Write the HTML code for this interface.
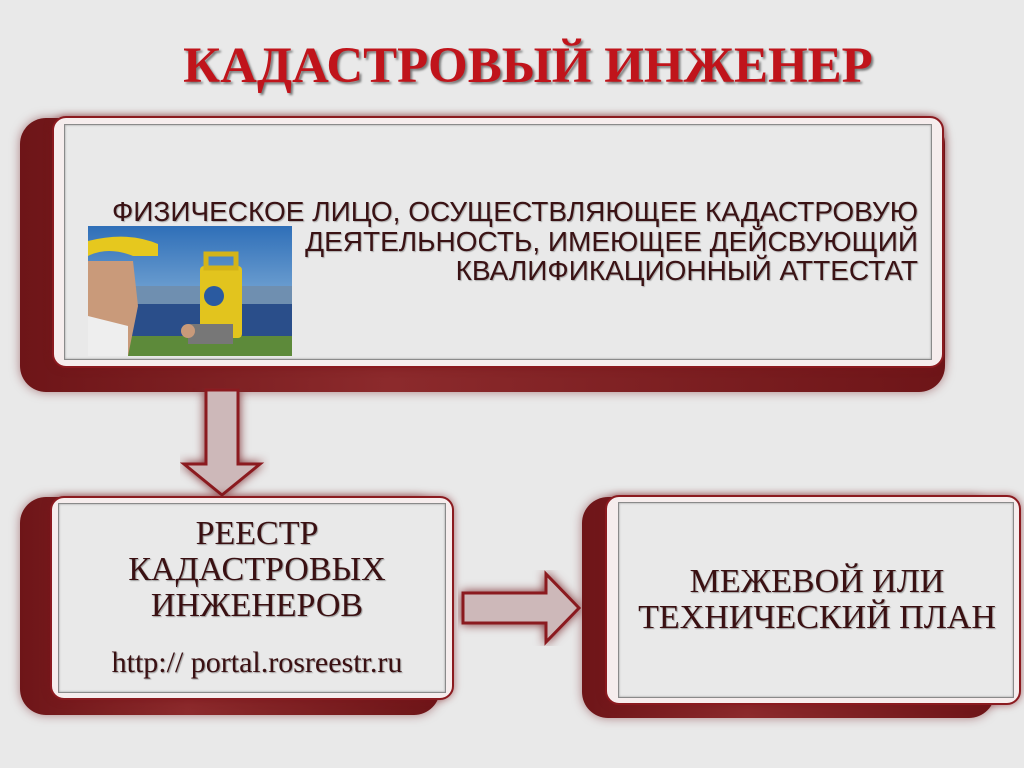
<!DOCTYPE html>
<html><head><meta charset="utf-8"><style>
body{margin:0;width:1024px;height:768px;background:#e9e9e9;position:relative;overflow:hidden;font-family:"Liberation Serif",serif}
.a{position:absolute}
.back{background:linear-gradient(90deg,#6e1518,#8c2a2c 40%,#6e1518);border-radius:26px;box-shadow:0 0 10px rgba(110,20,25,.5)}
.front{background:#f6eded;border:2px solid #8b1a1f;border-radius:14px;box-shadow:0 0 8px rgba(120,20,25,.6)}
.inner{background:#e9e9e9;border:1px solid #8a8a8a;box-shadow:inset 0 0 2px #999}
.t{color:#3a1012;text-align:center;font-size:34px;line-height:36px;text-shadow:1px 1px 1px #999}
</style></head><body>
<div class="a" style="left:0;top:37px;width:1056px;text-align:center;font-size:51px;font-weight:bold;color:#c0141b;text-shadow:2px 2px 2px #777">КАДАСТРОВЫЙ ИНЖЕНЕР</div>

<div class="a back" style="left:20px;top:118px;width:925px;height:274px"></div>
<div class="a front" style="left:52px;top:116px;width:888px;height:248px"></div>
<div class="a inner" style="left:64px;top:124px;width:866px;height:234px"></div>
<div class="a" style="left:60px;top:197px;width:858px;text-align:right;font-family:'Liberation Sans',sans-serif;font-size:28px;line-height:29.5px;color:#3a1214;text-shadow:1px 1px 1px #aaa">ФИЗИЧЕСКОЕ ЛИЦО, ОСУЩЕСТВЛЯЮЩЕЕ КАДАСТРОВУЮ<br>ДЕЯТЕЛЬНОСТЬ, ИМЕЮЩЕЕ ДЕЙСВУЮЩИЙ<br>КВАЛИФИКАЦИОННЫЙ АТТЕСТАТ</div>
<svg class="a" style="left:88px;top:226px" width="204" height="130">
<defs><linearGradient id="s" x1="0" y1="0" x2="0" y2="1"><stop offset="0" stop-color="#2f6fb8"/><stop offset="1" stop-color="#a9cde8"/></linearGradient></defs>
<rect width="204" height="130" fill="url(#s)"/>
<rect y="60" width="204" height="20" fill="#6f8fb0"/>
<rect y="78" width="204" height="35" fill="#2a4e8a"/>
<rect y="110" width="204" height="20" fill="#5d8a3a"/>
<path d="M0 30 Q20 20 45 30 L70 30 L70 18 Q40 5 0 15Z" fill="#e6c81e"/>
<path d="M0 35 L45 35 L50 80 L40 130 L0 130Z" fill="#c99a7a"/>
<path d="M0 90 L40 100 L40 130 L0 130Z" fill="#eee"/>
<rect x="112" y="40" width="42" height="72" rx="4" fill="#e2c41e"/>
<rect x="118" y="28" width="30" height="14" fill="none" stroke="#d4b418" stroke-width="5"/>
<circle cx="126" cy="70" r="10" fill="#2a5aa0"/>
<rect x="100" y="98" width="45" height="20" fill="#777"/>
<circle cx="100" cy="105" r="7" fill="#c99a7a"/>
</svg>

<svg class="a" style="left:180px;top:388px" width="90" height="112"><path d="M26 2 H58 V76 H80 L42 107 L4 76 H26Z" fill="#cdb8b9" stroke="#8b1a1f" stroke-width="3" style="filter:drop-shadow(0 0 5px #7b2a2e)"/></svg>
<svg class="a" style="left:458px;top:570px" width="126" height="76"><path d="M5 23 H88 V4 L121 38 L88 72 V53 H5Z" fill="#cdb8b9" stroke="#8b1a1f" stroke-width="3" style="filter:drop-shadow(0 0 5px #7b2a2e)"/></svg>

<div class="a back" style="left:20px;top:497px;width:420px;height:218px"></div>
<div class="a front" style="left:50px;top:496px;width:400px;height:200px"></div>
<div class="a inner" style="left:58px;top:503px;width:386px;height:188px"></div>
<div class="a t" style="left:58px;top:516px;width:398px">РЕЕСТР<br>КАДАСТРОВЫХ<br>ИНЖЕНЕРОВ</div>
<div class="a t" style="left:58px;top:645px;width:398px;font-size:30px">http:// portal.rosreestr.ru</div>

<div class="a back" style="left:582px;top:497px;width:413px;height:221px"></div>
<div class="a front" style="left:605px;top:495px;width:412px;height:206px"></div>
<div class="a inner" style="left:618px;top:502px;width:394px;height:194px"></div>
<div class="a t" style="left:618px;top:564px;width:398px;line-height:36px">МЕЖЕВОЙ ИЛИ<br>ТЕХНИЧЕСКИЙ ПЛАН</div>
</body></html>
